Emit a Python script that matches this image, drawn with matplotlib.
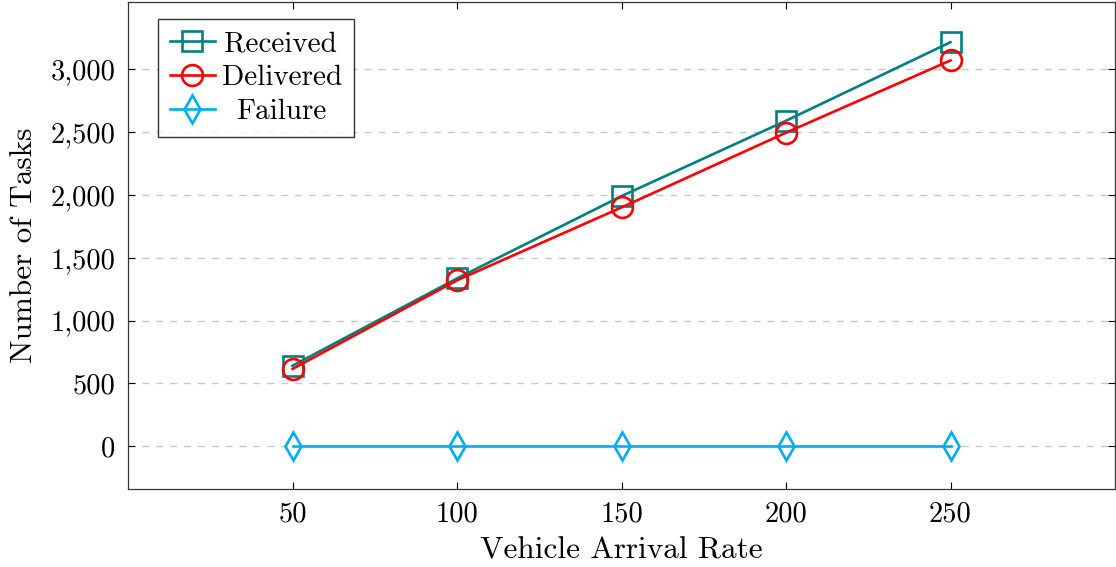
import matplotlib
matplotlib.use("Agg")
import matplotlib.pyplot as plt
from matplotlib.ticker import FuncFormatter

x_rates = [50, 100, 150, 200, 250]
received = [640, 1335, 1990, 2590, 3215]
delivered = [615, 1320, 1900, 2495, 3070]
failure = [0, 0, 0, 0, 0]

x_ticks = [50, 100, 150, 200, 250]
y_ticks = [0, 500, 1000, 1500, 2000, 2500, 3000]

plt.rcParams['font.family'] = ['cmr10', 'DejaVu Serif']
plt.rcParams['mathtext.fontset'] = 'cm'
plt.rcParams['axes.unicode_minus'] = False

fig = plt.figure(figsize=(11.16, 5.67), dpi=100)
ax = fig.add_axes([128/1116, (567-489)/567, (1115-128)/1116, (488-1)/567])

lw = 1.9
ms = 15
ax.plot(x_rates, received, color='#008080', lw=lw, marker='s', ms=ms,
        mfc='none', mew=lw, label='Received', zorder=3)
ax.plot(x_rates, delivered, color='#ff0000', lw=lw, marker='o', ms=ms,
        mfc='none', mew=lw, label='Delivered', zorder=4)
ax.plot(x_rates, failure, color='#00aeef', lw=lw, marker='d', ms=14,
        mfc='none', mew=lw, label='Failure', zorder=3)

ax.set_xlim(0, 300)
ax.set_ylim(-341, 3535)
ax.set_xticks(x_ticks)
ax.set_yticks(y_ticks)
ax.yaxis.set_major_formatter(FuncFormatter(lambda v, p: f"{int(v):,}"))
ax.tick_params(direction='in', top=True, right=True, length=5, width=0.8,
               labelsize=20.5, pad=9)
ax.grid(axis='y', color='#c8c8c8', linestyle=(0, (5, 5)), linewidth=1.0)
ax.set_axisbelow(True)
for s in ax.spines.values():
    s.set_linewidth(0.9)
    s.set_color('#333333')

ax.set_xlabel('Vehicle Arrival Rate', fontsize=22.5, labelpad=6)
ax.set_ylabel('Number of Tasks', fontsize=22.5, labelpad=9)

leg = ax.legend(loc='upper left', bbox_to_anchor=(30/987, 1 - 17/487), fontsize=21,
                frameon=True, fancybox=False, edgecolor='black',
                handlelength=1.55, handletextpad=0.25, borderpad=0.4,
                labelspacing=0.26, borderaxespad=0)
leg.get_frame().set_linewidth(1.0)
leg.texts[0].set_x(1.5)
leg.texts[2].set_x(14)

fig.savefig('out.png', dpi=100)
